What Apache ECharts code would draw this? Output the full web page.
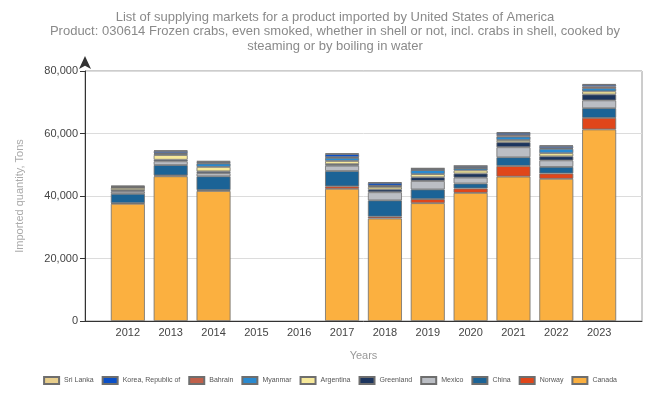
<!DOCTYPE html>
<html><head><meta charset="utf-8">
<script src="https://cdn.jsdelivr.net/npm/echarts@6/dist/echarts.min.js"></script>
<style>html,body{margin:0;padding:0;background:#fff}#c{width:660px;height:394px}</style>
</head><body><div id="c"></div>
<script>
const years = ['2012', '2013', '2014', '2015', '2016', '2017', '2018', '2019', '2020', '2021', '2022', '2023'];
const yTicks = [0, 20000, 40000, 60000, 80000];
const canada    = [37500, 46300, 41600, 0, 0, 42300, 32800, 37700, 41000, 46200, 45500, 61300];
const norway    = [200, 300, 300, 0, 0, 800, 600, 1300, 1400, 3400, 1700, 3700];
const china     = [3000, 3300, 4400, 0, 0, 4900, 5200, 3100, 1600, 2800, 2100, 3100];
const mexico    = [700, 1200, 1000, 0, 0, 1700, 2600, 2700, 1900, 3200, 2100, 2500];
const greenland = [500, 500, 600, 0, 0, 500, 900, 1200, 1300, 1600, 1300, 1900];
const argentina = [700, 1500, 1400, 0, 0, 1000, 800, 1000, 1000, 700, 1000, 1000];
const myanmar   = [200, 400, 1100, 0, 0, 1000, 300, 1300, 700, 1100, 1400, 1000];
const bahrain   = [100, 200, 200, 0, 0, 200, 100, 100, 100, 500, 200, 500];
const korea     = [200, 700, 400, 0, 0, 1000, 900, 400, 600, 700, 700, 600];
const sriLanka  = [200, 200, 200, 0, 0, 300, 200, 100, 100, 200, 200, 200];

const seriesDefs = [
  ['Canada', canada, '#FBB040'],
  ['Norway', norway, '#E0461A'],
  ['China', china, '#1B6396'],
  ['Mexico', mexico, '#BBBEC4'],
  ['Greenland', greenland, '#1C355E'],
  ['Argentina', argentina, '#F7E99A'],
  ['Myanmar', myanmar, '#2A8AD0'],
  ['Bahrain', bahrain, '#C0604A'],
  ['Korea, Republic of', korea, '#0A4FC7'],
  ['Sri Lanka', sriLanka, '#E8CE8C']
];
const legendOrder = ['Sri Lanka', 'Korea, Republic of', 'Bahrain', 'Myanmar', 'Argentina', 'Greenland', 'Mexico', 'China', 'Norway', 'Canada'];

// padded category axis: half-band margin on each side like the reference
const cats = [''].concat(years, ['']);
const pad = arr => ['-'].concat(arr.map(v => (v === 0 ? '-' : v)), ['-']);

const FONT = 'Liberation Sans';
const chart = echarts.init(document.getElementById('c'), null, {renderer: 'canvas'});
chart.setOption({
  animation: false,
  title: {
    text: 'List of supplying markets for a product imported by United States of America\nProduct: 030614 Frozen crabs, even smoked, whether in shell or not, incl. crabs in shell, cooked by\nsteaming or by boiling in water',
    left: 330, top: 5,
    textAlign: 'center',
    textStyle: {fontFamily: FONT, fontSize: 13, fontWeight: 'normal', color: '#8a8a8a', lineHeight: 14.5}
  },
  legend: {
    data: legendOrder, top: 371, left: 'center',
    itemWidth: 15, itemHeight: 7, itemGap: 8,
    textStyle: {fontFamily: FONT, fontSize: 7, color: '#555'},
    icon: 'rect'
  },
  grid: {left: 85, right: 18, top: 71, bottom: 73, show: true, borderColor: '#9a9a9a', borderWidth: 1},
  xAxis: {
    type: 'category', data: cats, boundaryGap: false,
    name: 'Years', nameLocation: 'middle', nameGap: 29,
    nameTextStyle: {fontFamily: FONT, fontSize: 11, color: '#999'},
    axisLine: {show: true, lineStyle: {color: '#333'}},
    axisTick: {show: false},
    splitLine: {show: false},
    axisLabel: {fontFamily: FONT, fontSize: 11, color: '#444', margin: 6, interval: 0}
  },
  yAxis: {
    type: 'value', min: 0, max: 80000, interval: 20000,
    name: 'Imported quantity, Tons', nameLocation: 'middle', nameGap: 60, nameRotate: 90,
    nameTextStyle: {fontFamily: FONT, fontSize: 11, color: '#aaa'},
    axisLine: {show: true, lineStyle: {color: '#333'}, symbol: ['none', 'arrow'], symbolSize: [9, 13], symbolOffset: [0, 15]},
    axisTick: {show: true, length: 5, lineStyle: {color: '#333'}},
    splitLine: {show: true, lineStyle: {color: '#dcdcdc'}},
    axisLabel: {fontFamily: FONT, fontSize: 11, color: '#444', margin: 7,
      formatter: v => (yTicks.indexOf(v) >= 0 ? v.toLocaleString('en-US') : '')}
  },
  series: seriesDefs.map(([name, vals, color]) => ({
    name, type: 'bar', stack: 'total', barWidth: 34,
    itemStyle: {color, borderColor: '#6e6e6e', borderWidth: 0.8},
    data: pad(vals)
  }))
});
</script></body></html>
